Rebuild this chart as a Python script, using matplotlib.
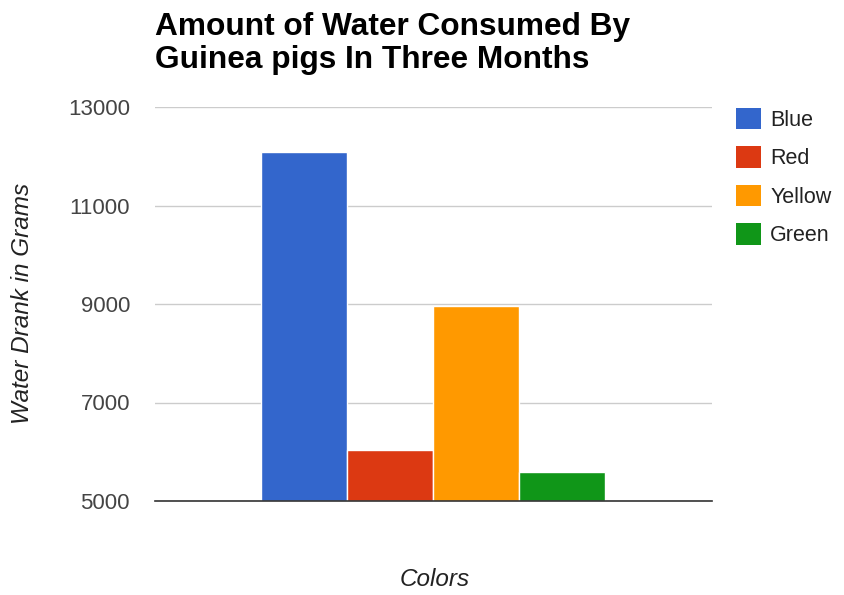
import matplotlib
matplotlib.use("Agg")
import matplotlib.pyplot as plt
from matplotlib.patches import Patch

plt.rcParams['font.family'] = ['Liberation Sans', 'DejaVu Sans']

categories = ["Blue", "Red", "Yellow", "Green"]
values = [12090, 6030, 8960, 5580]
colors = ["#3366cc", "#dc3912", "#ff9900", "#109618"]
yticks = [5000, 7000, 9000, 11000, 13000]

fig = plt.figure(figsize=(8.45, 5.95), dpi=100)
ax = fig.add_axes([155/845, 1 - 501/595, (712-155)/845, (501-107)/595])

bar_w = 85.8 / 557
n = len(categories)
x0 = 433 / 557 - 155 / 557 - (n - 1) * bar_w / 2
xs = [x0 + i * bar_w for i in range(n)]
ax.bar(xs, [v - 5000 for v in values], bottom=5000, width=bar_w,
       color=colors, edgecolor="white", linewidth=1.0, zorder=3)

ax.set_xlim(0, 1)
ax.set_ylim(5000, 13000)
ax.set_yticks(yticks)
ax.set_yticklabels([str(t) for t in yticks], fontsize=16, color="#444444")
ax.set_xticks([])
ax.tick_params(axis='y', length=0, pad=18)
ax.grid(axis='y', color="#cccccc", linewidth=1, zorder=0)
for s in ["top", "right", "left"]:
    ax.spines[s].set_visible(False)
ax.spines["bottom"].set_color("#333333")
ax.spines["bottom"].set_linewidth(1.2)
ax.spines["bottom"].set_zorder(4)

fig.text(23/845, 1 - 303/595, "Water Drank in Grams", rotation=90, style="italic",
         fontsize=17.5, color="#222222", ha="center", va="center")
fig.text(435/845, 1 - 580/595, "Colors", style="italic", fontsize=17.5,
         color="#222222", ha="center", va="center")

fig.text(155/845, 1 - 35/595, "Amount of Water Consumed By",
         fontsize=22.8, fontweight="bold", color="#000000", ha="left", va="baseline")
fig.text(155/845, 1 - 68/595, "Guinea pigs In Three Months",
         fontsize=22.8, fontweight="bold", color="#000000", ha="left", va="baseline")

handles = [Patch(facecolor=c, edgecolor="none") for c in colors]
leg = fig.legend(handles, categories, loc="upper left",
                 bbox_to_anchor=(725/845, 1 - 97/595), frameon=False,
                 fontsize=15.5, handlelength=1.15, handleheight=1.15,
                 handletextpad=0.45, labelspacing=0.72, borderpad=0)
for t in leg.get_texts():
    t.set_color("#222222")

fig.savefig("out.png", dpi=100)
